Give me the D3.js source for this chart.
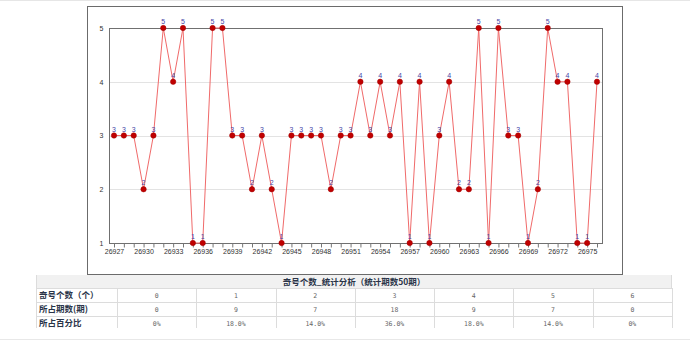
<!DOCTYPE html>
<html>
<head>
<meta charset="utf-8">
<script src="https://cdn.jsdelivr.net/npm/d3@7"></script>
<style>
  body { margin: 0; background: #fff; }
  svg { display: block; }
</style>
</head>
<body>
<div id="chart"></div>
<script>
// issue numbers and odd-count per issue
var firstIssue = 26927;
var oddCounts = [3, 3, 3, 2, 3, 5, 4, 5, 1, 1,
                 5, 5, 3, 3, 2, 3, 2, 1, 3, 3,
                 3, 3, 2, 3, 3, 4, 3, 4, 3, 4,
                 1, 4, 1, 3, 4, 2, 2, 5, 1, 5,
                 3, 3, 1, 2, 5, 4, 4, 1, 1, 4];
var issues = oddCounts.map(function(d, i) { return firstIssue + i; });
var yTicks = [1, 2, 3, 4, 5];

// summary table
var tableTitle = "奇号个数_统计分析（统计期数50期）";
var rowLabels = ["奇号个数（个）", "所占期数(期)", "所占百分比"];
var oddValues = ["0", "1", "2", "3", "4", "5", "6"];
var periodCounts = ["0", "9", "7", "18", "9", "7", "0"];
var percentages = ["0%", "18.0%", "14.0%", "36.0%", "18.0%", "14.0%", "0%"];

var width = 690, height = 346;
var svg = d3.select("#chart").append("svg")
    .attr("width", width)
    .attr("height", height);

// page top rule and bottom separator
svg.append("rect").attr("x", 0).attr("y", 0).attr("width", width).attr("height", 1).attr("fill", "#e6e6e6");
svg.append("rect").attr("x", 0).attr("y", 339).attr("width", width).attr("height", 1).attr("fill", "#e8e8e8");

// outer frame
svg.append("rect")
    .attr("x", 87.5).attr("y", 6.5)
    .attr("width", 535).attr("height", 268)
    .attr("fill", "#fff")
    .attr("stroke", "#6b6b6b");

var plot = { left: 109, right: 602, top: 28, bottom: 243 };

var x = d3.scaleLinear().domain([0, oddCounts.length - 1]).range([114, 597]);
var y = d3.scaleLinear().domain([1, 5]).range([plot.bottom, plot.top]);

// gridlines
svg.append("g")
  .selectAll("line")
  .data(yTicks.filter(function(d) { return d > 1 && d < 5; }))
  .enter().append("line")
    .attr("x1", plot.left).attr("x2", plot.right)
    .attr("y1", function(d) { return Math.round(y(d)) + 0.5; })
    .attr("y2", function(d) { return Math.round(y(d)) + 0.5; })
    .attr("stroke", "#e3e3e3");

// plot frame
svg.append("rect")
    .attr("x", plot.left + 0.5).attr("y", plot.top + 0.5)
    .attr("width", plot.right - plot.left).attr("height", plot.bottom - plot.top)
    .attr("fill", "none")
    .attr("stroke", "#707070");

// y axis
var yAxis = d3.axisLeft(y).tickValues(yTicks).tickSize(0).tickPadding(6).tickFormat(d3.format("d"));
svg.append("g")
    .attr("transform", "translate(" + (plot.left + 0.5) + ",0)")
    .call(yAxis)
    .call(function(g) {
      g.select(".domain").remove();
      g.selectAll("text").attr("font-family", "Liberation Sans, Arial, sans-serif").attr("font-size", 7).attr("fill", "#333");
    });

// x axis: tick at each issue, label every 3rd
var xAxis = d3.axisBottom(x)
    .tickValues(d3.range(oddCounts.length))
    .tickSize(4)
    .tickPadding(2)
    .tickFormat(function(i) { return i % 3 === 0 ? issues[i] : ""; });
svg.append("g")
    .attr("transform", "translate(0," + (plot.bottom + 0.5) + ")")
    .call(xAxis)
    .call(function(g) {
      g.select(".domain").remove();
      g.selectAll("line").attr("stroke", "#777");
      g.selectAll("text").attr("font-family", "Liberation Sans, Arial, sans-serif").attr("font-size", 7).attr("fill", "#333");
    });

// line
var line = d3.line()
    .x(function(d, i) { return x(i); })
    .y(function(d) { return y(d); });
svg.append("path")
    .datum(oddCounts)
    .attr("d", line)
    .attr("fill", "none")
    .attr("stroke", "#f06a6a")
    .attr("stroke-width", 1);

// markers
svg.append("g")
  .selectAll("circle")
  .data(oddCounts)
  .enter().append("circle")
    .attr("cx", function(d, i) { return x(i); })
    .attr("cy", function(d) { return y(d); })
    .attr("r", 2.7)
    .attr("fill", "#c00000")
    .attr("stroke", "#a00000")
    .attr("stroke-width", 0.5);

// value labels
svg.append("g")
  .selectAll("text")
  .data(oddCounts)
  .enter().append("text")
    .attr("x", function(d, i) { return x(i); })
    .attr("y", function(d) { return y(d) - 4; })
    .attr("text-anchor", "middle")
    .attr("font-family", "Liberation Sans, Arial, sans-serif")
    .attr("font-size", 7)
    .attr("fill", "#4646a8")
    .text(function(d) { return d; });

// table
var tLeft = 36, tRight = 672, labelW = 81;
var colW = (tRight - tLeft - labelW) / oddValues.length;
var rowTops = [275, 288, 302, 316];
var rowH = [13, 14, 14, 12];
var table = svg.append("g");

table.append("rect")
    .attr("x", tLeft).attr("y", rowTops[0])
    .attr("width", tRight - tLeft).attr("height", rowH[0])
    .attr("fill", "#f1f1f1");
table.append("text")
    .attr("x", (tLeft + tRight) / 2).attr("y", rowTops[0] + 10)
    .attr("text-anchor", "middle")
    .attr("font-family", "Noto Sans CJK SC, sans-serif")
    .attr("font-size", 8.5)
    .attr("font-weight", "bold")
    .attr("fill", "#2a3448")
    .text(tableTitle);

var rows = [oddValues, periodCounts, percentages];
rows.forEach(function(vals, r) {
  var top = rowTops[r + 1];
  table.append("text")
      .attr("x", tLeft + 3).attr("y", top + 10)
      .attr("font-family", "Noto Sans CJK SC, sans-serif")
      .attr("font-size", 8.5)
      .attr("font-weight", "bold")
      .attr("fill", "#2a3448")
      .text(rowLabels[r]);
  vals.forEach(function(v, c) {
    table.append("text")
        .attr("x", tLeft + labelW + colW * (c + 0.5)).attr("y", top + 10)
        .attr("text-anchor", "middle")
        .attr("font-family", "DejaVu Sans Mono, monospace")
        .attr("font-size", 6.5)
        .attr("fill", "#666")
        .text(v);
  });
});

// table lines
[rowTops[1], rowTops[2], rowTops[3]].forEach(function(t) {
  table.append("line")
      .attr("x1", tLeft).attr("x2", tRight)
      .attr("y1", t + 0.5).attr("y2", t + 0.5)
      .attr("stroke", "#dcdcdc");
});
table.append("line")
    .attr("x1", tLeft + 0.5).attr("x2", tLeft + 0.5)
    .attr("y1", rowTops[0]).attr("y2", 328)
    .attr("stroke", "#dcdcdc");
d3.range(oddValues.length + 1).forEach(function(c) {
  var xx = Math.round(tLeft + labelW + colW * c) + 0.5;
  table.append("line")
      .attr("x1", xx).attr("x2", xx)
      .attr("y1", rowTops[1]).attr("y2", 328)
      .attr("stroke", "#dcdcdc");
});
table.append("line")
    .attr("x1", tRight - 0.5).attr("x2", tRight - 0.5)
    .attr("y1", rowTops[0]).attr("y2", rowTops[1])
    .attr("stroke", "#dcdcdc");
</script>
</body>
</html>
